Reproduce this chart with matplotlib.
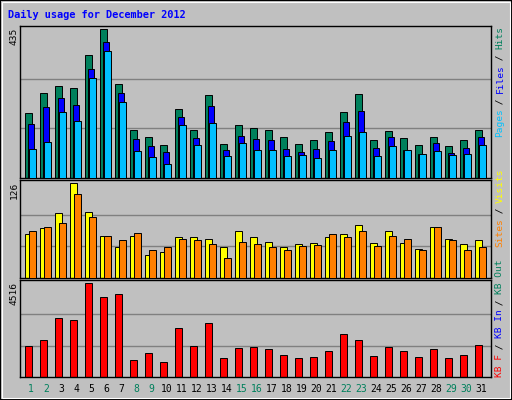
import matplotlib
matplotlib.use("Agg")
import matplotlib.pyplot as plt
from matplotlib.patches import Rectangle
import numpy as np

days = list(range(1, 32))
weekend = [1, 2, 8, 9, 15, 16, 22, 23, 29, 30]
hits = [191,248,269,263,360,435,275,139,119,95,201,139,243,98,154,145,139,119,98,110,134,192,245,110,136,116,95,119,92,110,139]
files = [157,207,234,213,319,396,248,113,92,75,178,116,210,81,122,113,110,86,75,86,107,163,195,89,119,81,69,101,72,89,119]
pages = [86,104,192,166,293,372,222,78,60,42,154,95,160,63,101,81,83,63,66,57,81,122,134,63,92,81,69,78,66,69,95]
visits = [58,66,86,126,88,56,41,56,30,35,55,54,52,41,63,54,48,41,45,47,55,58,70,47,63,47,39,67,52,45,50]
sites = [63,67,73,111,81,56,50,60,37,41,52,51,45,26,48,45,41,37,43,44,59,54,63,43,56,52,37,67,50,37,41]
kbytes = [1500,1797,2835,2736,4516,3824,3972,808,1154,709,2340,1500,2588,906,1401,1450,1352,1055,906,956,1253,2044,1797,1005,1450,1253,956,1352,906,1055,1549]
max_labels = ["435", "126", "4516"]

W, H = 512, 400
fig = plt.figure(figsize=(W/100, H/100), dpi=100, facecolor="#c0c0c0")

def fx(x): return x / W
def fy(y): return 1 - y / H

fig.patches.append(Rectangle((0, 0), 1, 1, transform=fig.transFigure, fill=False, edgecolor="#000000", lw=1.5))
fig.patches.append(Rectangle((fx(2), fy(398)), fx(508), 396/H, transform=fig.transFigure, fill=False, edgecolor="#ffffff", lw=0.8))

fig.text(fx(8), fy(15), "Daily usage for December 2012", color="#0000ff", family="DejaVu Sans Mono",
         fontweight="bold", fontsize=7.4, va="center", ha="left")

left, right = 20, 491
panels = [(26, 178), (180, 278), (280, 377)]
x = np.arange(31)
bw = 0.45
axes = []
for (top, bot) in panels:
    ax = fig.add_axes([fx(left), fy(bot), fx(right - left), (bot - top) / H])
    ax.set_facecolor("#c0c0c0")
    ax.set_xlim(-0.35, 31.05)
    ax.set_xticks([]); ax.set_yticks([])
    for s in ax.spines.values():
        s.set_linewidth(1); s.set_color("black")
    axes.append(ax)

def setup(ax, mx, top, bot):
    h = bot - top
    ax.set_ylim(0, mx * h / (h - 3))
    for f in (1/3, 2/3):
        ax.axhline(mx * f, color="#808080", lw=1, zorder=0)

ax1, ax2, ax3 = axes
setup(ax1, max(hits), *panels[0])
ax1.bar(x, hits, bw, align="edge", color="#00805c", edgecolor="black", lw=0.7, zorder=2)
ax1.bar(x + 0.16, files, bw, align="edge", color="#0000ff", edgecolor="black", lw=0.7, zorder=3)
ax1.bar(x + 0.27, pages, bw, align="edge", color="#00c0ff", edgecolor="black", lw=0.7, zorder=4)

setup(ax2, max(visits), *panels[1])
ax2.bar(x, visits, bw, align="edge", color="#ffff00", edgecolor="black", lw=0.7, zorder=2)
ax2.bar(x + 0.27, sites, bw, align="edge", color="#ff8000", edgecolor="black", lw=0.7, zorder=3)

setup(ax3, max(kbytes), *panels[2])
ax3.bar(x, kbytes, bw, align="edge", color="#ff0000", edgecolor="black", lw=0.7, zorder=2)

for i, d in enumerate(days):
    ax3.text(i + 0.4, -0.125, str(d), transform=ax3.get_xaxis_transform(), ha="center", va="center",
             fontsize=7, family="DejaVu Sans Mono", color="#00805c" if d in weekend else "black")

for lab, (top, bot) in zip(max_labels, panels):
    fig.text(fx(14), fy(top + 2), lab, rotation=90, ha="center", va="top", fontsize=6.8,
             family="DejaVu Sans Mono", color="black")

cp = 5.5
def vlabel(xp, ybottom, segs):
    y = ybottom
    for s, c in segs:
        fig.text(fx(xp), fy(y), s, rotation=90, ha="center", va="bottom", fontsize=6.8,
                 family="DejaVu Sans Mono", color=c)
        y -= len(s) * cp

vlabel(500, 137, [("Pages", "#00c0ff"), (" / ", "black"), ("Files", "#0000ff"), (" / ", "black"), ("Hits", "#00805c")])
vlabel(500, 247, [("Sites", "#ff8000"), (" / ", "black"), ("Visits", "#ffff00")])
vlabel(500, 377, [("KB F", "#ff0000"), (" / ", "black"), ("KB In", "#0000ff"), (" / ", "black"), ("KB Out", "#00805c")])

fig.savefig("out.png", dpi=100, facecolor=fig.get_facecolor())
